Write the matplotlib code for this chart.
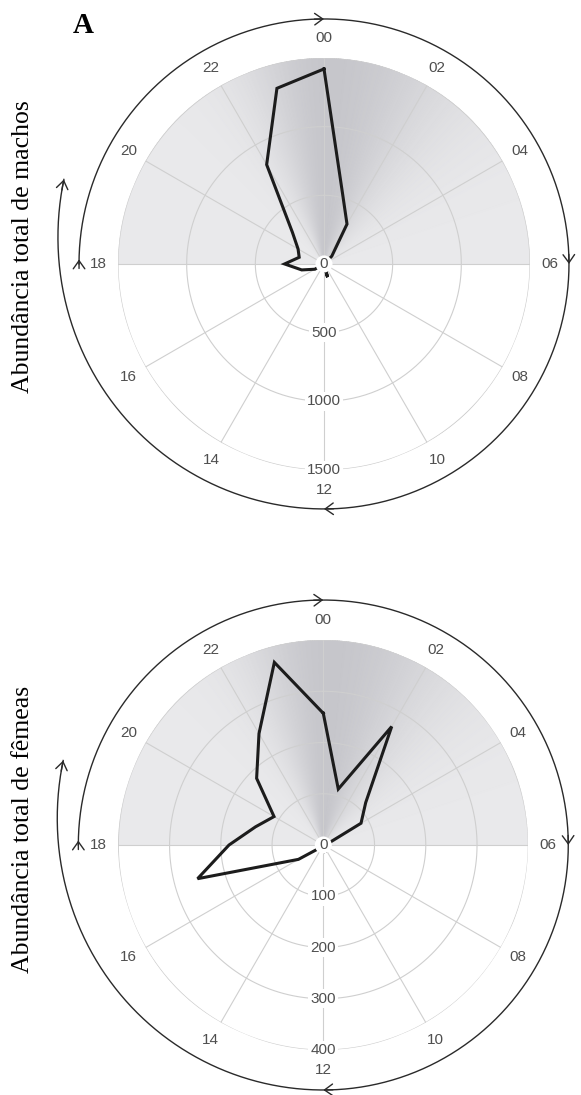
import numpy as np
import matplotlib
matplotlib.use('Agg')
import matplotlib.pyplot as plt
from matplotlib.colors import LinearSegmentedColormap

# total abundance per hour of the day (0..23)
hours = np.arange(24)
machos = [1420, 525, 335, 80, 0, 0, 0, 0, 0, 0, 0, 100,
          0, 0, 0, 0, 77, 168, 287, 187, 218, 325, 835, 1324]
femeas = [257, 113, 267, 117, 85, 8, 0, 0, 0, 0, 0, 16,
          0, 0, 0, 6, 56, 254, 184, 137, 111, 184, 251, 369]
hour_ticks = list(range(0, 24, 2))
rings_m = [500, 1000, 1500]
rings_f = [100, 200, 300, 400]

gray_txt = '#4f4f4f'
grid_col = '#cfcfcf'
night = LinearSegmentedColormap.from_list('night', ['#e9e9eb', '#c6c6cb'])


def h2t(h):
    return np.asarray(h, dtype=float) / 24.0 * 2 * np.pi


def spiral_r(h):
    # dial radius in pixels; opens outward after 12h on the second pass
    h = np.asarray(h, dtype=float)
    return 245 + 0.55 * np.clip(h - 36, 0, None) ** 2


def chevron(ax, h_tip, h_tail, k):
    ax.annotate('', xy=(h2t(h_tip), spiral_r(h_tip) * k),
                xytext=(h2t(h_tail), spiral_r(h_tail) * k),
                arrowprops=dict(arrowstyle='->,head_length=0.45,head_width=0.32',
                                color='#2a2a2a', lw=1.0, shrinkA=0, shrinkB=0,
                                mutation_scale=13),
                annotation_clip=False)


def panel(ax, values, rings, r_px):
    rmax = rings[-1]
    ax.set_theta_zero_location('N')
    ax.set_theta_direction(-1)
    ax.set_ylim(0, rmax)
    ax.set_xticks([])
    ax.set_yticks([])
    ax.grid(False)
    ax.spines['polar'].set_visible(False)

    # night shading 18h -> 06h
    th = np.linspace(-np.pi / 2, np.pi / 2, 361)
    sig = np.where(th < 0.03, 0.40, 0.60)
    shade = np.exp(-((th - 0.03) / sig) ** 2)
    T, R = np.meshgrid(th, [0, rmax])
    C = np.vstack([shade, shade])
    ax.pcolormesh(T, R, C, cmap=night, shading='gouraud', vmin=0, vmax=1, zorder=1)

    # grid
    tc = np.linspace(0, 2 * np.pi, 400)
    for r in rings:
        ax.plot(tc, np.full_like(tc, r), color=grid_col, lw=0.8, zorder=2)
    for h in hour_ticks:
        ax.plot([h2t(h)] * 2, [0, rmax], color=grid_col, lw=0.8, zorder=2)

    # data
    t = h2t(hours)
    v = np.asarray(values, dtype=float)
    ax.plot(np.append(t, t[0]), np.append(v, v[0]), color='#1c1c1c', lw=2.2,
            zorder=4, solid_joinstyle='miter')

    # labels
    for h in hour_ticks:
        ax.text(h2t(h), 1.097 * rmax, '%02d' % h, ha='center', va='center',
                fontsize=11, color=gray_txt, family='Liberation Sans')
    for r in rings:
        ax.text(np.pi, r, str(r), ha='center', va='center', fontsize=11,
                color=gray_txt, family='Liberation Sans', zorder=5,
                bbox=dict(boxstyle='square,pad=0.15', fc='white', ec='none'))
    ax.text(0, 0, '0', ha='center', va='center', fontsize=11, color=gray_txt,
            family='Liberation Sans', zorder=6,
            bbox=dict(boxstyle='circle,pad=0.1', fc='white', ec='none'))

    # clockwise spiral arrow around the dial
    k = rmax / r_px
    hs = np.linspace(18, 43.2, 800)
    ax.plot(h2t(hs), spiral_r(hs) * k, color='#2a2a2a', lw=1.0,
            clip_on=False, zorder=3)
    for h in [24, 30, 36]:
        chevron(ax, h, h - 0.15, k)
    chevron(ax, 18.07, 17.93, k)
    chevron(ax, 43.2, 43.05, k)


fig = plt.figure(figsize=(5.81, 10.95), dpi=100)
ax1 = fig.add_axes([0.2031, 0.5708, 0.7091, 0.3763], projection='polar')
ax2 = fig.add_axes([0.2036, 0.0411, 0.7057, 0.3744], projection='polar')
panel(ax1, machos, rings_m, 206)
panel(ax2, femeas, rings_f, 205)

fig.text(0.0396, 1 - 247 / 1095, 'Abundância total de machos', rotation=90,
         ha='center', va='center', fontsize=18.5, family='Liberation Serif')
fig.text(0.0396, 1 - 829 / 1095, 'Abundância total de fêmeas', rotation=90,
         ha='center', va='center', fontsize=18.5, family='Liberation Serif')
fig.text(73 / 581, 1 - 33 / 1095, 'A', fontsize=21, weight='bold',
         family='Liberation Serif', ha='left', va='baseline')

fig.savefig('out.png', dpi=100)
